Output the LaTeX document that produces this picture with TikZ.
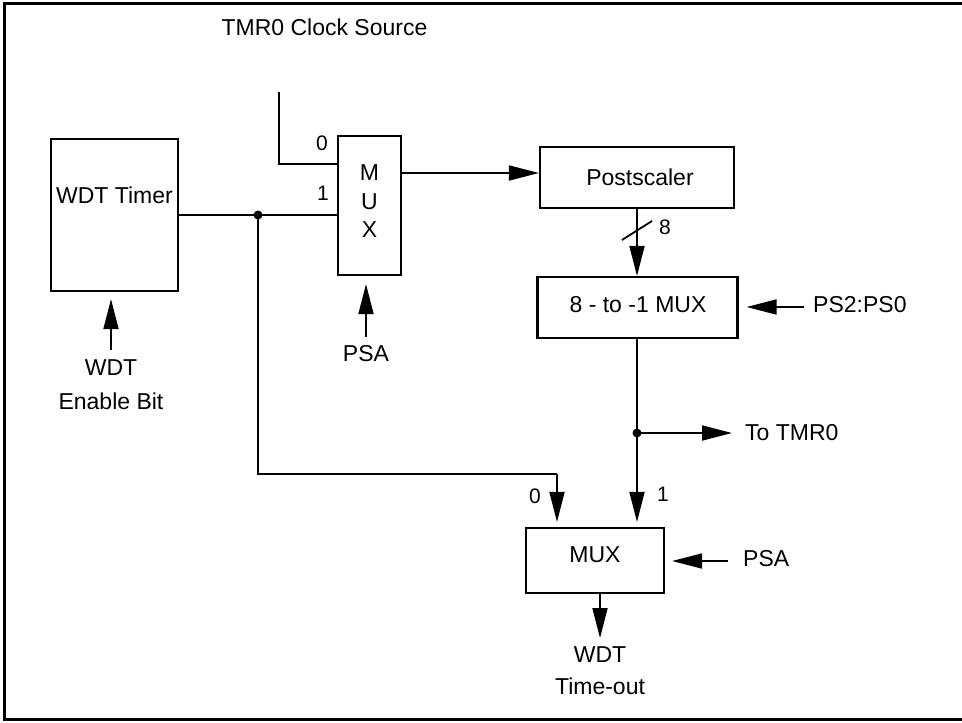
\documentclass[tikz,border=0pt]{standalone}
\usepackage{fontspec}
\setmainfont{Liberation Sans}
\usetikzlibrary{arrows.meta}
\begin{document}
\begin{tikzpicture}[x=1pt,y=-1pt,
  box/.style={draw,line width=2.2pt,inner sep=0pt},
  wire/.style={line width=1.8pt},
  arr/.style={wire,-{Triangle[length=30pt,width=15pt]}},
  txt/.style={inner sep=0pt,font=\fontsize{23}{27}\selectfont},
  dig/.style={inner sep=0pt,font=\fontsize{21}{25}\selectfont},
  dot/.style={circle,fill,inner sep=0pt,minimum size=9pt}]
\useasboundingbox (0,0) rectangle (962,723);
% frame
\draw[line width=3pt] (962,3.5) -- (4,3.5) -- (4,719.5) -- (962,719.5);

% boxes
\node[box,minimum width=127pt,minimum height=152pt] (wdt) at (114.5,215) {};
\node[txt] (wdtt) at (114.5,195) {WDT Timer};
\node[box,minimum width=63pt,minimum height=139pt] (mux1) at (369.5,205.5) {};
\node[txt,align=center,font=\fontsize{23}{28.5}\selectfont] (mux1t) at (369.5,201.5) {M\\U\\X};
\node[box,minimum width=194pt,minimum height=61pt] (ps) at (637,177.5) {};
\node[txt] (pst) at (640,177) {Postscaler};
\node[box,minimum width=200pt,minimum height=61pt] (mux8) at (637.5,307.5) {};
\node[txt] (mux8t) at (638,305) {8 - to -1 MUX};
\node[box,minimum width=138pt,minimum height=65pt] (mux2) at (595,560.5) {};
\node[txt] (mux2t) at (595,555) {MUX};

% texts
\node[txt] (clk) at (324.5,27) {TMR0 Clock Source};
\node[dig] (l0a) at (322,143) {0};
\node[dig] (l1a) at (323,193) {1};
\node[txt] (psa1t) at (366,354) {PSA};
\node[txt] (en1) at (111,368) {WDT};
\node[txt] (en2) at (111,401) {Enable Bit};
\node[dig] (l8) at (665,227) {8};
\node[txt,anchor=west] (psel) at (813,305) {PS2:PS0};
\node[txt,anchor=west] (totmr) at (745,433) {To TMR0};
\node[dig] (l0b) at (535,496) {0};
\node[dig] (l1b) at (663,494) {1};
\node[txt,anchor=west] (psa2t) at (743,559) {PSA};
\node[txt] (out1) at (600,655) {WDT};
\node[txt] (out2) at (600,686) {Time-out};

% coordinates
\coordinate (clkin) at (279,92);
\coordinate (j1) at (258,215);
\coordinate (j2) at (637,433);
\coordinate (psin) at ([yshift=4.5pt]ps.west);
\coordinate (psa1) at (366,337);
\coordinate (en) at (111,350);
\coordinate (pssrc) at (804,307);
\coordinate (tmr) at (732,433);
\coordinate (corner) at (258,474);
\coordinate (in0) at (557,474);
\coordinate (psa2) at (728,561);
\coordinate (outs) at (600,593);
\coordinate (outt) at (600,638);

% connectors
\draw[wire] (clkin) -- (279,164) -- (mux1.west |- 0,164);
\draw[wire] (wdt.east |- j1) -- (j1) -- (mux1.west |- j1);
\draw[arr] (mux1.east |- psin) -- (psin);
\draw[arr,shorten >=8pt] (psa1) -- (psa1 |- mux1.south);
\draw[arr,shorten >=7pt] (en) -- (en |- wdt.south);
\draw[arr] (ps.south) -- (mux8.north -| ps.south);
\draw[wire] (622,240) -- (652,221);
\draw[arr,shorten >=8pt] (pssrc) -- (mux8.east |- pssrc);
\draw[wire] (mux8.south -| j2) -- (j2);
\draw[arr] (j2) -- (tmr);
\draw[arr,shorten >=5pt] (j2) -- (j2 |- mux2.north);
\draw[wire] (j1) -- (corner) -- (in0);
\draw[arr,shorten >=5pt] (in0) -- (in0 |- mux2.north);
\draw[arr,shorten >=7pt] (psa2) -- (mux2.east |- psa2);
\draw[arr] (outs) -- (outt);
\node[dot] (d1) at (j1) {};
\node[dot] (d2) at (j2) {};
\end{tikzpicture}
\end{document}
